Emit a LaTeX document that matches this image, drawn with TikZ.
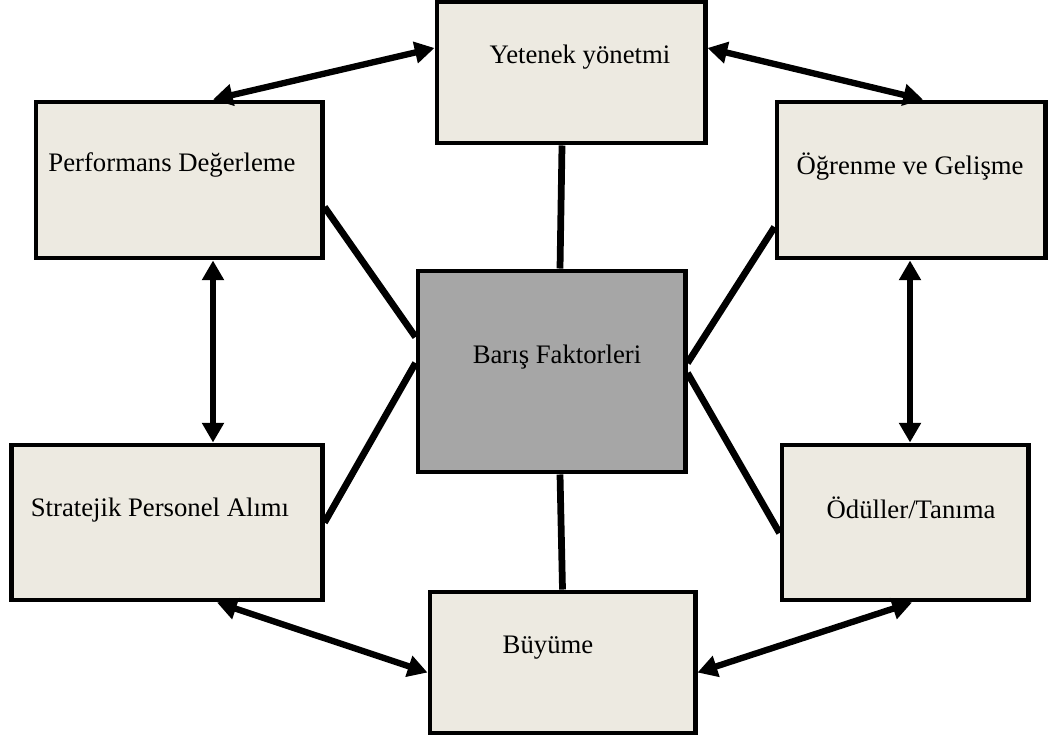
\documentclass[tikz,border=0pt]{standalone}
\usepackage{fontspec}
\setmainfont{Liberation Serif}
\usepackage{xcolor}
\usetikzlibrary{positioning, arrows.meta, calc}

\definecolor{boxfill}{RGB}{237,234,225}
\definecolor{corefill}{RGB}{166,166,166}

\begin{document}
\begin{tikzpicture}[x=0.025cm, y=-0.025cm,
  factor/.style={draw, line width=3.5pt, fill=boxfill, inner sep=0pt},
  core/.style={factor, fill=corefill},
  lbl/.style={font=\fontsize{19}{23}\selectfont, inner sep=0pt},
  link/.style={line width=4.8pt},
  twoway/.style={line width=4.5pt, >={Triangle[length=14pt,width=15pt]}, <->}]

  % Page
  \useasboundingbox (0,0) rectangle (1049,742);

  % Boxes
  \node[factor, minimum width=6.7cm, minimum height=3.525cm] (yetenek) at (571,72.5) {};
  \node[factor, minimum width=7.15cm, minimum height=3.9cm] (perf) at (179,180) {};
  \node[factor, minimum width=6.7cm, minimum height=3.9cm] (ogren) at (911,180) {};
  \node[core, minimum width=6.675cm, minimum height=5.025cm] (baris) at (551.5,371.5) {};
  \node[factor, minimum width=7.75cm, minimum height=3.875cm] (strat) at (167,522.5) {};
  \node[factor, minimum width=6.15cm, minimum height=3.875cm] (odul) at (905,522.5) {};
  \node[factor, minimum width=6.625cm, minimum height=3.525cm] (buyume) at (562.5,662.5) {};

  % Texts
  \node[lbl] (yetenek-t) at (580,57) {Yetenek yönetmi};
  \node[lbl] (perf-t) at (172,165) {Performans Değerleme};
  \node[lbl] (ogren-t) at (910,167) {Öğrenme ve Gelişme};
  \node[lbl] (baris-t) at (557,357) {Barış Faktorleri};
  \node[lbl] (strat-t) at (160,510) {Stratejik Personel Alımı};
  \node[lbl] (odul-t) at (911,508) {Ödüller/Tanıma};
  \node[lbl] (buyume-t) at (548,648) {Büyüme};

  % Links to the centre
  \draw[link] ($(yetenek.south)+(-9,0)$) -- ($(baris.north)+(8.5,0)$);
  \draw[link] ($(baris.south)+(8.5,0)$) -- (buyume.north);
  \draw[link] ($(perf.east)+(0,27)$) -- ($(baris.west)+(0,-34.5)$);
  \draw[link] (strat.east) -- ($(baris.west)+(0,-8.5)$);
  \draw[link] ($(ogren.west)+(0,47)$) -- ($(baris.east)+(0,-8.5)$);
  \draw[link] ($(odul.west)+(0,10.5)$) -- ($(baris.east)+(0,1.5)$);

  % Two-way arrows round the ring
  \draw[twoway] ($(perf.north)+(34,0)$) -- ($(yetenek.west)+(0,-24.5)$);
  \draw[twoway] ($(yetenek.east)+(0,-24.5)$) -- ($(ogren.north)+(12,0)$);
  \draw[twoway] ($(perf.south)+(34,0)$) -- ($(strat.north)+(46,0)$);
  \draw[twoway] ($(ogren.south)+(-1,0)$) -- ($(odul.north)+(5,0)$);
  \draw[twoway] ($(strat.south)+(50,0)$) -- ($(buyume.west)+(0,10)$);
  \draw[twoway] ($(buyume.east)+(0,10)$) -- ($(odul.south)+(7,0)$);

\end{tikzpicture}
\end{document}
